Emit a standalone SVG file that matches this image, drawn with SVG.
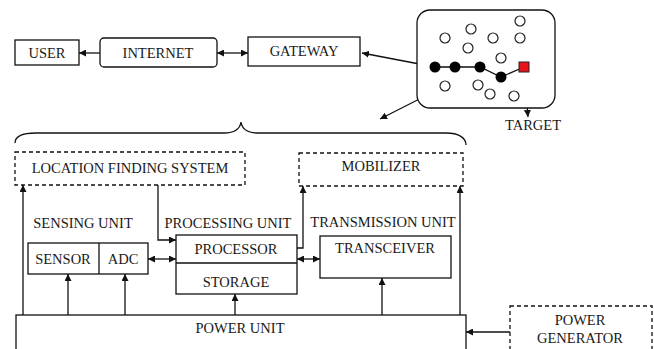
<svg xmlns="http://www.w3.org/2000/svg" width="654" height="349" viewBox="0 0 654 349">
  <defs>
    <marker id="arr" viewBox="0 0 10 10" refX="10" refY="5" markerWidth="7" markerHeight="7" markerUnits="userSpaceOnUse" orient="auto-start-reverse">
      <path d="M0,0 L10,5 L0,10 Z" fill="#111"/>
    </marker>
    <style>
      .box { fill: #fff; stroke: #111; stroke-width: 1.3; }
      .dash { fill: #fff; stroke: #111; stroke-width: 1.3; stroke-dasharray: 4 3; }
      .ln { fill: none; stroke: #111; stroke-width: 1.3; }
      .arw { fill: none; stroke: #111; stroke-width: 1.3; marker-end: url(#arr); }
      .bi { fill: none; stroke: #111; stroke-width: 1.3; marker-start: url(#arr); marker-end: url(#arr); }
      text { font-family: "Liberation Serif", "Times New Roman", serif; font-size: 14.5px; fill: #1a1a1a; text-anchor: middle; }
      .hollow { fill: #fff; stroke: #222; stroke-width: 1.2; }
      .solid { fill: #000; }
    </style>
  </defs>

  <rect width="654" height="349" fill="#fff"/>

  <!-- connectors -->
  <g id="connectors">
    <line class="arw" x1="100" y1="53" x2="79" y2="53"/>
    <line class="bi" x1="217" y1="53" x2="248" y2="53"/>
    <line class="arw" x1="435" y1="67" x2="362" y2="53"/>
    <line class="arw" x1="445" y1="86" x2="380" y2="119"/>
    <line class="arw" x1="524" y1="67" x2="528" y2="117"/>
    <!-- brace over the node architecture -->
    <path class="ln" d="M15,143 C15,137 20,133 36,133 L224,133 C234,133 240,129 241,122 C242,129 248,133 258,133 L446,133 C459,133 466,138 466,145"/>
    <!-- power unit to subsystems -->
    <line class="arw" x1="23" y1="315" x2="23" y2="185"/>
    <line class="arw" x1="68" y1="315" x2="68" y2="274"/>
    <line class="arw" x1="125" y1="315" x2="125" y2="274"/>
    <line class="arw" x1="235" y1="315" x2="235" y2="294"/>
    <line class="arw" x1="382" y1="315" x2="382" y2="278"/>
    <line class="arw" x1="460" y1="315" x2="460" y2="186"/>
    <line class="arw" x1="510" y1="332" x2="466" y2="332"/>
    <!-- location finding to processor -->
    <polyline class="arw" points="158,185 158,240 176,240"/>
    <!-- processor to mobilizer -->
    <polyline class="arw" points="297,248 303,248 303,186"/>
    <!-- data paths -->
    <line class="bi" x1="148" y1="259" x2="176" y2="259"/>
    <line class="bi" x1="297" y1="259" x2="320" y2="259"/>
  </g>

  <g id="user">
    <rect class="box" x="15" y="40" width="64" height="25"/>
    <text x="47" y="58">USER</text>
  </g>

  <g id="internet">
    <rect class="box" x="100" y="38" width="117" height="29" rx="4"/>
    <text x="158" y="58">INTERNET</text>
  </g>

  <g id="gateway">
    <rect class="box" x="248" y="37" width="112" height="29"/>
    <text x="304" y="56">GATEWAY</text>
  </g>

  <g id="sensor-field">
    <rect class="box" x="417" y="10" width="138" height="98" rx="13"/>
    <polyline class="ln" points="435,67 480,67 501,77 524,67"/>
    <circle class="hollow" cx="445" cy="38" r="5"/>
    <circle class="hollow" cx="471" cy="29" r="5"/>
    <circle class="hollow" cx="468" cy="48" r="5"/>
    <circle class="hollow" cx="493" cy="38" r="5"/>
    <circle class="hollow" cx="520" cy="21" r="5"/>
    <circle class="hollow" cx="520" cy="38" r="5"/>
    <circle class="hollow" cx="501" cy="58" r="5"/>
    <circle class="hollow" cx="445" cy="86" r="5"/>
    <circle class="hollow" cx="478" cy="85" r="5"/>
    <circle class="hollow" cx="490" cy="94" r="5"/>
    <circle class="hollow" cx="514" cy="96" r="5"/>
    <circle class="solid" cx="435" cy="67" r="5.5"/>
    <circle class="solid" cx="455" cy="67" r="5.5"/>
    <circle class="solid" cx="480" cy="67" r="5.5"/>
    <circle class="solid" cx="501" cy="77" r="5.5"/>
    <rect x="519" y="62" width="10" height="10" fill="#e8121c" stroke="#222" stroke-width="1"/>
  </g>

  <g id="target">
    <text x="533" y="130">TARGET</text>
  </g>

  <g id="location-finding">
    <rect class="dash" x="15" y="152" width="230" height="33"/>
    <text x="130" y="173">LOCATION FINDING SYSTEM</text>
  </g>

  <g id="mobilizer">
    <rect class="dash" x="299" y="153" width="164" height="33"/>
    <text x="381" y="171">MOBILIZER</text>
  </g>

  <g id="sensing-unit">
    <text x="83" y="228">SENSING UNIT</text>
    <rect class="box" x="28" y="243" width="120" height="31"/>
    <line class="ln" x1="99" y1="243" x2="99" y2="274"/>
    <text x="63" y="264">SENSOR</text>
    <text x="123" y="264">ADC</text>
  </g>

  <g id="processing-unit">
    <text x="228" y="228">PROCESSING UNIT</text>
    <rect class="box" x="176" y="235" width="121" height="59"/>
    <line class="ln" x1="176" y1="263" x2="297" y2="263"/>
    <text x="236" y="254">PROCESSOR</text>
    <text x="236" y="287">STORAGE</text>
  </g>

  <g id="transmission-unit">
    <text x="383" y="227">TRANSMISSION UNIT</text>
    <rect class="box" x="320" y="236" width="131" height="42"/>
    <text x="385" y="253">TRANSCEIVER</text>
  </g>

  <g id="power-unit">
    <rect class="box" x="16" y="315" width="450" height="45"/>
    <text x="240" y="333">POWER UNIT</text>
  </g>

  <g id="power-generator">
    <rect class="dash" x="510" y="306" width="142" height="55"/>
    <text x="580" y="325">POWER</text>
    <text x="580" y="343">GENERATOR</text>
  </g>
</svg>
